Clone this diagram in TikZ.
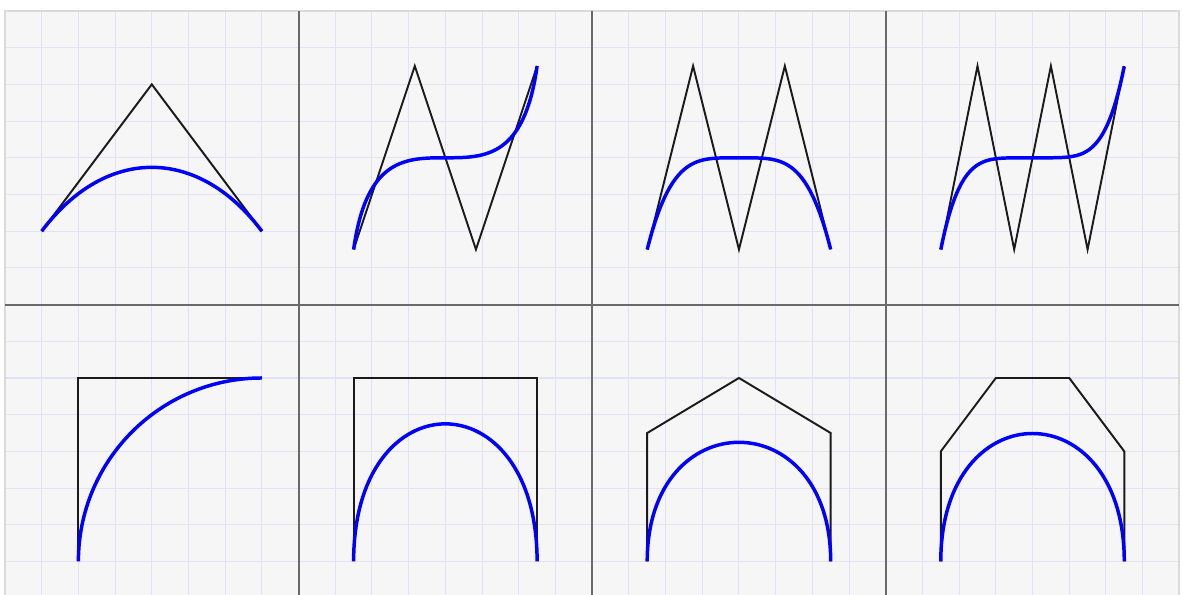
\documentclass[tikz,border=0pt]{standalone}
\usepackage{xcolor}
\usepackage{tikz}
\definecolor{paperbg}{HTML}{F6F6F6}
\definecolor{gridlav}{HTML}{E2E2F6}
\definecolor{framegray}{HTML}{DADADA}
\definecolor{divgray}{HTML}{6A6A6A}
\definecolor{polyblack}{HTML}{1A1A1A}
\definecolor{curveblue}{HTML}{0000FF}
\tikzset{
  polyline/.style={polyblack,line width=0.75pt,line join=miter},
  bezcurve/.style={curveblue,line width=1.35pt},
}

\begin{document}
\begin{tikzpicture}[x=0.5cm,y=0.5cm]
  \useasboundingbox (-0.136,0.087) rectangle (32.1,16.3);
  % paper and grid
  \fill[paperbg] (0,0) rectangle (32,16);
  \draw[gridlav,line width=0.4pt,step=0.5cm] (0,0) grid (32,16);
  \draw[framegray,line width=0.8pt] (0,0) rectangle (32,16);
  \foreach \xd in {8,16,24}
    \draw[divgray,line width=0.8pt] (\xd,0) -- (\xd,16);
  \draw[divgray,line width=0.8pt] (0,8) -- (32,8);

  % top row: control polygons
  \draw[polyline] (1,10) -- (4,14) -- (7,10);
  \draw[polyline] (9.5,9.5) -- (11.1667,14.5) -- (12.8333,9.5) -- (14.5,14.5);
  \draw[polyline] (17.5,9.5) -- (18.75,14.5) -- (20,9.5) -- (21.25,14.5) -- (22.5,9.5);
  \draw[polyline] (25.5,9.5) -- (26.5,14.5) -- (27.5,9.5) -- (28.5,14.5)
    -- (29.5,9.5) -- (30.5,14.5);
  % bottom row: control polygons
  \draw[polyline] (2,1) -- (2,6) -- (7,6);
  \draw[polyline] (9.5,1) -- (9.5,6) -- (14.5,6) -- (14.5,1);
  \draw[polyline] (17.5,1) -- (17.5,4.5) -- (20,6) -- (22.5,4.5) -- (22.5,1);
  \draw[polyline] (25.5,1) -- (25.5,4) -- (27,6) -- (29,6) -- (30.5,4) -- (30.5,1);

  % top row: curves
  \draw[bezcurve] (1,10) .. controls (2.74,12.32) and (5.26,12.32) .. (7,10);
  \draw[bezcurve] (9.5,9.5) .. controls (10.2,14.5) and (13.8,9.5) .. (14.5,14.5);
  \draw[bezcurve] plot[domain=0:1,samples=90,variable=\t]
    ({17.5+5*\t},{9.5+5*(4*\t*(1-\t)^3+4*\t^3*(1-\t))});
  \draw[bezcurve] plot[domain=0:1,samples=90,variable=\t]
    ({25.5+5*\t},{9.5+5*(5*\t*(1-\t)^4+10*\t^3*(1-\t)^2+\t^5)});
  % bottom row: curves
  \draw[bezcurve] (2,1) arc[start angle=180,end angle=90,radius=5];
  \draw[bezcurve] (9.5,1) .. controls (9.5,6) and (14.5,6) .. (14.5,1);
  \draw[bezcurve] (17.5,1) .. controls (17.5,5.33) and (22.5,5.33) .. (22.5,1);
  \draw[bezcurve] (25.5,1) .. controls (25.5,5.65) and (30.5,5.65) .. (30.5,1);
\end{tikzpicture}
\end{document}
